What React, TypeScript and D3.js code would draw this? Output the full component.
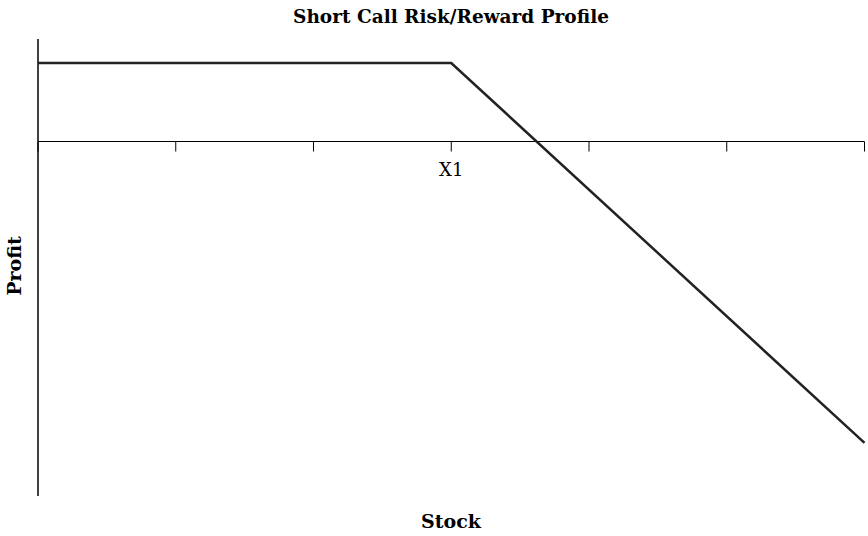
import React from "react";
import * as d3 from "d3";

const stockPrices = [0, 3, 6];
const profits = [1, 1, -3.84];
const xTicks = [0, 1, 2, 3, 4, 5, 6];
const xTickLabels = ["", "", "", "X1", "", "", ""];
const yDomain = [-4.516, 1.306];

const W = 868;
const H = 536;

export default function App() {
  const x = d3.scaleLinear().domain([0, 6]).range([38, 864.5]);
  const y = d3.scaleLinear().domain(yDomain).range([496, 39]);
  const line = d3
    .line<number>()
    .x((_, i) => x(stockPrices[i]))
    .y((d) => y(d));
  const font = "'DejaVu Serif', 'Liberation Serif', serif";
  return (
    <svg
      width={W}
      height={H}
      style={{ position: "absolute", left: 0, top: 0, background: "#fff" }}
    >
      <text
        x={451}
        y={23}
        textAnchor="middle"
        fontFamily={font}
        fontWeight="bold"
        fontSize={18.5}
        fill="#000"
      >
        Short Call Risk/Reward Profile
      </text>
      <line x1={x(0)} x2={x(0)} y1={y(yDomain[1])} y2={y(yDomain[0])} stroke="#000" strokeWidth={1.5} />
      <line x1={x(0)} x2={x(6)} y1={y(0)} y2={y(0)} stroke="#000" strokeWidth={1} />
      {xTicks.map((t, i) => (
        <g key={t}>
          <line x1={x(t)} x2={x(t)} y1={y(0)} y2={y(0) + 10} stroke="#000" strokeWidth={1} />
          {xTickLabels[i] && (
            <text
              x={x(t)}
              y={176}
              textAnchor="middle"
              fontFamily={font}
              fontSize={18}
              fill="#000"
            >
              {xTickLabels[i]}
            </text>
          )}
        </g>
      ))}
      <path d={line(profits) || ""} fill="none" stroke="#222" strokeWidth={2.5} />
      <text
        x={451}
        y={528}
        textAnchor="middle"
        fontFamily={font}
        fontWeight="bold"
        fontSize={19}
        fill="#000"
      >
        Stock
      </text>
      <text
        transform="translate(21,266) rotate(-90)"
        textAnchor="middle"
        fontFamily={font}
        fontWeight="bold"
        fontSize={19}
        fill="#000"
      >
        Profit
      </text>
    </svg>
  );
}
